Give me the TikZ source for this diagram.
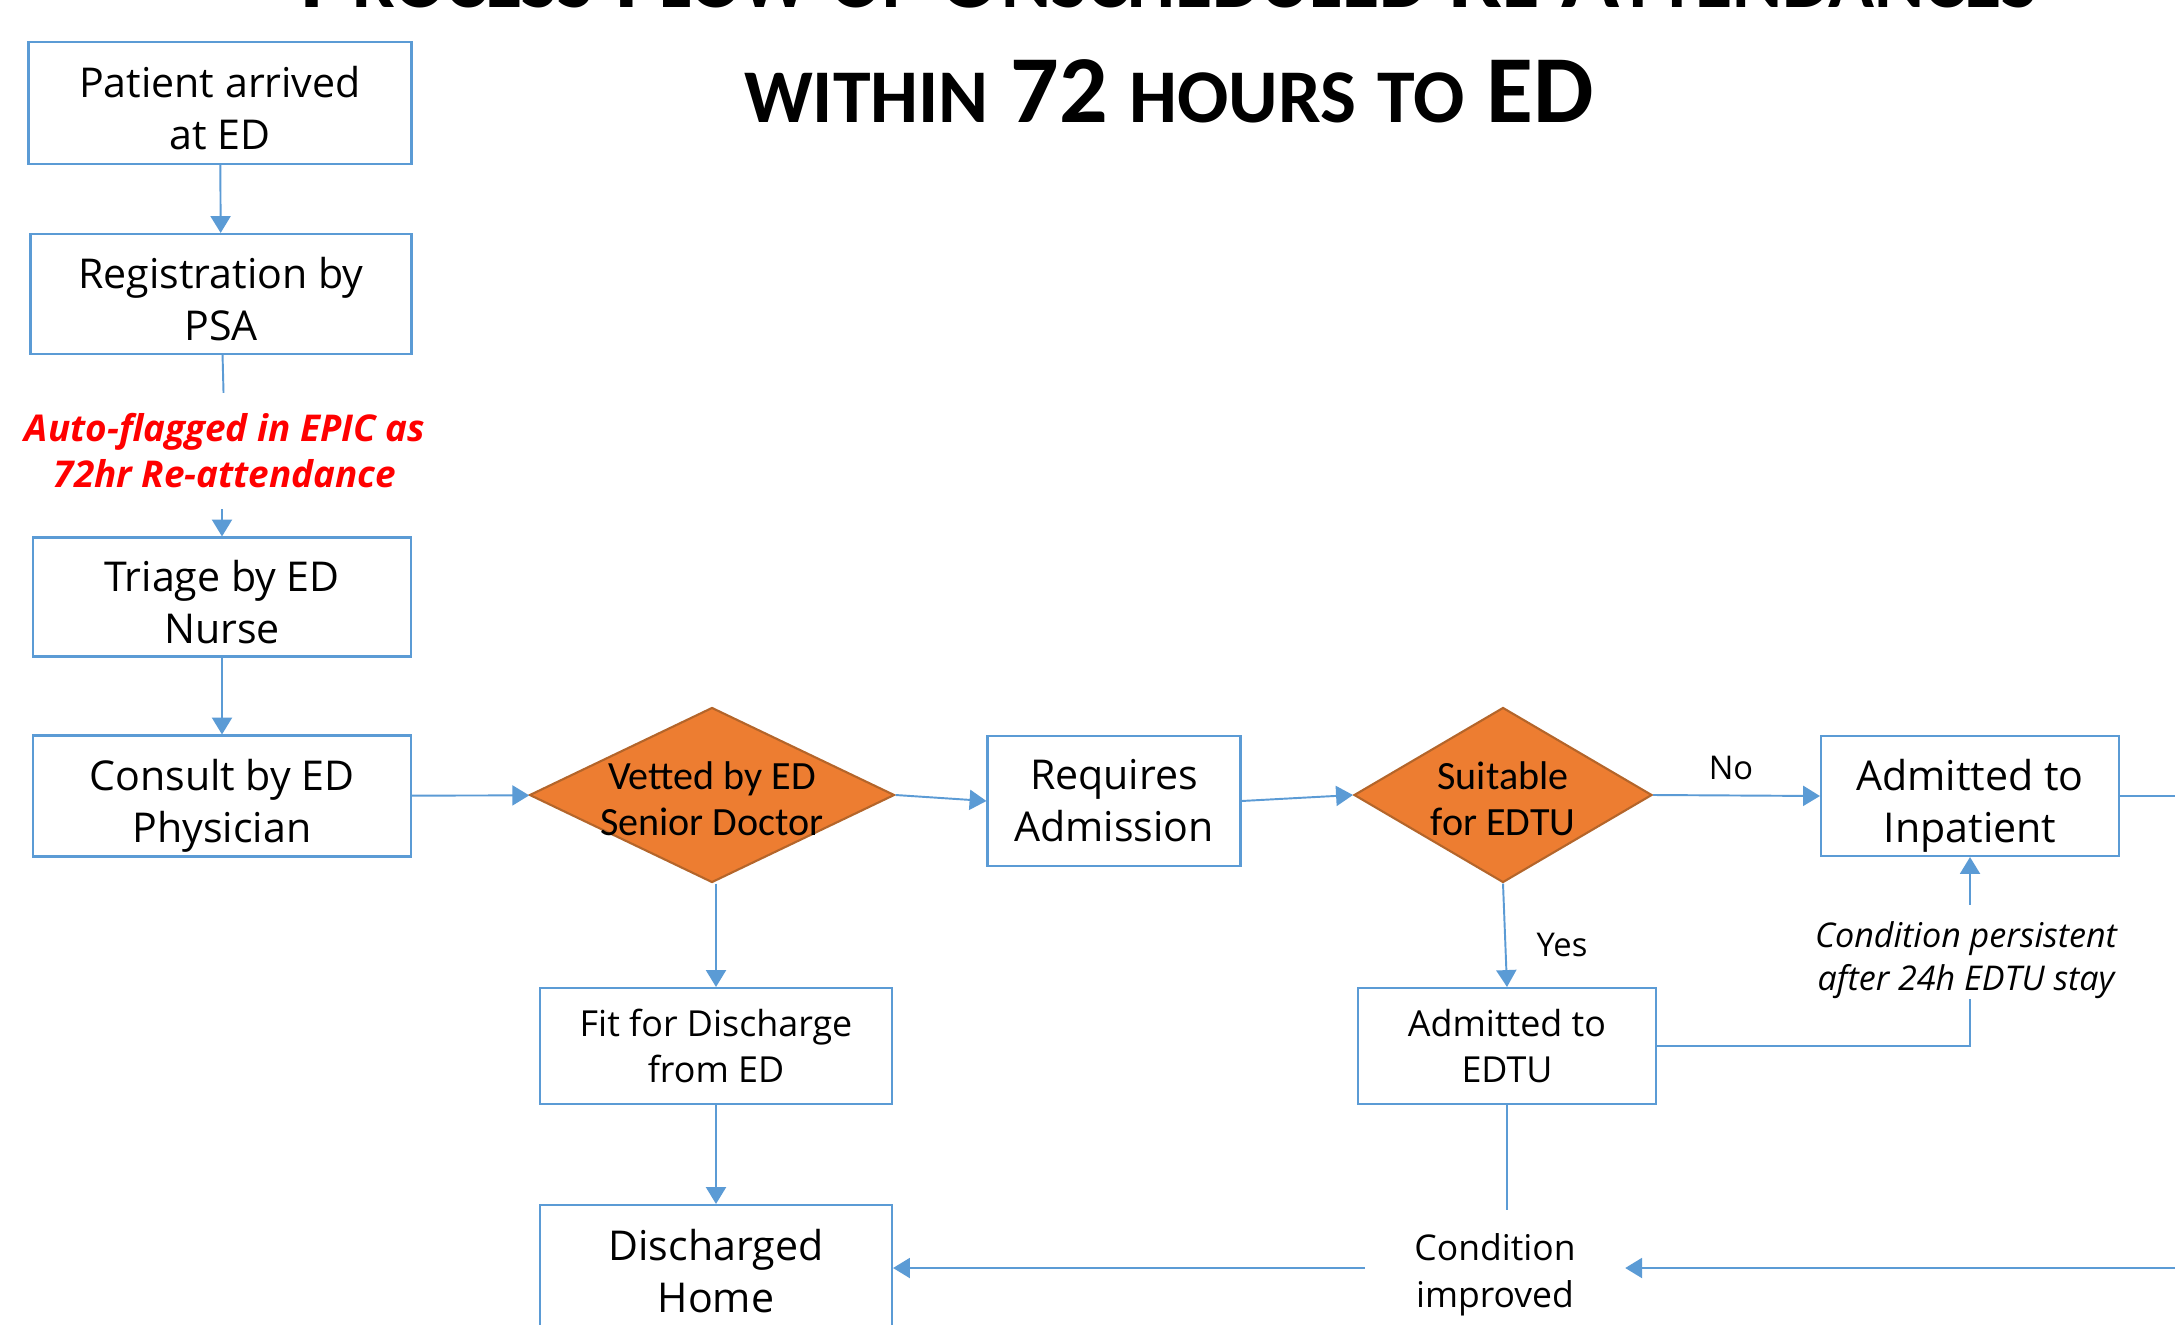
\documentclass[tikz,border=0pt]{standalone}
\usepackage{fontspec}
\setmainfont{Open Sans}
\newfontfamily\calfont{Carlito}
\usepackage{xcolor}
\usepackage{tikz}
\usetikzlibrary{shapes.geometric,arrows.meta,positioning}

\definecolor{boxblue}{HTML}{5B9BD5}
\definecolor{dorange}{HTML}{ED7D31}
\definecolor{dborder}{HTML}{B4652A}

\newcommand{\tbig}{\fontsize{27.3}{30}\selectfont}
\newcommand{\tsmall}{\fontsize{21.6}{30}\selectfont}
% two lines set a little low in the box
\newcommand{\lowtwo}[2]{\rule{0pt}{15pt}#1\\#2\rule[-3.6pt]{0pt}{0pt}}

\tikzset{
  box/.style={draw=boxblue, line width=0.6pt, fill=white, align=center, inner sep=0pt,
    font=\fontsize{11.7}{14.8}\selectfont},
  smallbox/.style={box, font=\fontsize{10.2}{13.1}\selectfont},
  decision/.style={diamond, draw=dborder, line width=0.6pt, fill=dorange, inner sep=0pt},
  dtext/.style={align=center, yshift=-0.4mm, font=\calfont\fontsize{11.4}{13.1}\selectfont},
  conn/.style={draw=boxblue, line width=0.55pt},
  arr/.style={conn, -{Triangle[length=4.8pt,width=5.7pt]}},
  note/.style={align=center, inner sep=0pt},
}

\begin{document}
\begin{tikzpicture}[x=0.1mm, y=-0.1mm]
        \fill[white] (0,0) rectangle (2175,1324);
        \useasboundingbox (0,0) rectangle (2175,1324);
        % Title
        \node[anchor=base, inner sep=0pt, font=\calfont\bfseries\tbig] (title1) at (1169,8)
          {P{\tsmall ROCESS} F{\tsmall LOW} {\tsmall OF} U{\tsmall NSCHEDULED} R{\tsmall E-}A{\tsmall TTENDANCES}};
        \node[anchor=base, inner sep=0pt, font=\calfont\bfseries\tbig] (title2) at (1169,123)
          {{\tsmall WITHIN} 72 {\tsmall HOURS} {\tsmall TO} ED};
        % Left column
        \node[box, minimum width=38.3mm, minimum height=12.2mm] (patient) at (220,103) {\lowtwo{Patient arrived}{at ED}};
        \node[box, minimum width=38.1mm, minimum height=12.0mm] (reg) at (221,294) {\lowtwo{Registration by}{PSA}};
        \node[note, minimum height=11.5mm, text=red, font=\bfseries\itshape\fontsize{10.5}{13.1}\selectfont] (flag) at (225,451) {Auto-flagged in EPIC as\\72hr Re-attendance};
        \node[box, minimum width=37.8mm, minimum height=11.9mm] (triage) at (222,597) {\lowtwo{Triage by ED}{Nurse}};
        \node[box, minimum width=37.8mm, minimum height=12.1mm] (consult) at (222,796) {\lowtwo{Consult by ED}{Physician}};
        % Main row
        \node[decision, minimum width=36.5mm, minimum height=17.5mm,
          label={[dtext]center:Vetted by ED\\Senior Doctor}] (vet) at (712,795) {};
        \node[box, minimum width=25.3mm, minimum height=13.0mm] (req) at (1114,801) {Requires\\Admission};
        \node[decision, minimum width=29.8mm, minimum height=17.5mm,
          label={[dtext]center:Suitable\\for EDTU}] (suit) at (1503,795) {};
        \node[box, minimum width=29.8mm, minimum height=12.0mm] (inp) at (1970,796) {\lowtwo{Admitted to}{Inpatient}};
        % Lower rows
        \node[smallbox, minimum width=35.2mm, minimum height=11.6mm] (fit) at (716,1046) {Fit for Discharge\\from ED};
        \node[smallbox, minimum width=29.8mm, minimum height=11.6mm] (edtu) at (1507,1046) {Admitted to\\EDTU};
        \node[box, minimum width=35.2mm, minimum height=13.2mm] (disch) at (716,1271) {Discharged\\Home};
        \node[note, minimum width=25.9mm, minimum height=11.4mm, font=\fontsize{10.1}{13.4}\selectfont]
          (cond) at (1495,1268) {\rule{0pt}{11.7pt}Condition\\improved};
        \node[note, minimum height=9.2mm, font=\itshape\fontsize{9.7}{12.2}\selectfont]
          (persist) at (1966,952) {\rule{0pt}{12pt}Condition persistent\\after 24h EDTU stay};
        % Labels
        \node[font=\fontsize{9.3}{11}\selectfont] (no) at (1731,768) {No};
        \node[font=\fontsize{9.3}{11}\selectfont] (yes) at (1562,945) {Yes};
        \coordinate (rturn) at (2260,796);
        % Edges
        \draw[arr] (patient) -- (reg);
        \draw[conn] (reg) -- (flag);
        \draw[arr] (flag.south -| triage.north) -- (triage);
        \draw[arr] (triage) -- (consult);
        \draw[arr] (consult) -- (vet);
        \draw[arr] (vet.east) -- (req.west);
        \draw[arr] (req.east) -- (suit.west);
        \draw[arr] (suit.east) -- (inp.west);
        \draw[arr] (suit.south) -- (edtu.north);
        \draw[arr] (fit.north |- vet.south) -- (fit.north);
        \draw[arr] (fit) -- (disch);
        \draw[conn] (edtu.east) -| (persist.south -| inp.south);
        \draw[arr] (persist.north -| inp.south) -- (inp.south);
        \draw[conn] (edtu.south) -- (edtu.south |- cond.north);
        \draw[arr] (cond.west) -- (cond.west -| disch.east);
        \draw[arr] (inp.east) -- (rturn) |- (cond.east);
    \end{tikzpicture}
\end{document}
